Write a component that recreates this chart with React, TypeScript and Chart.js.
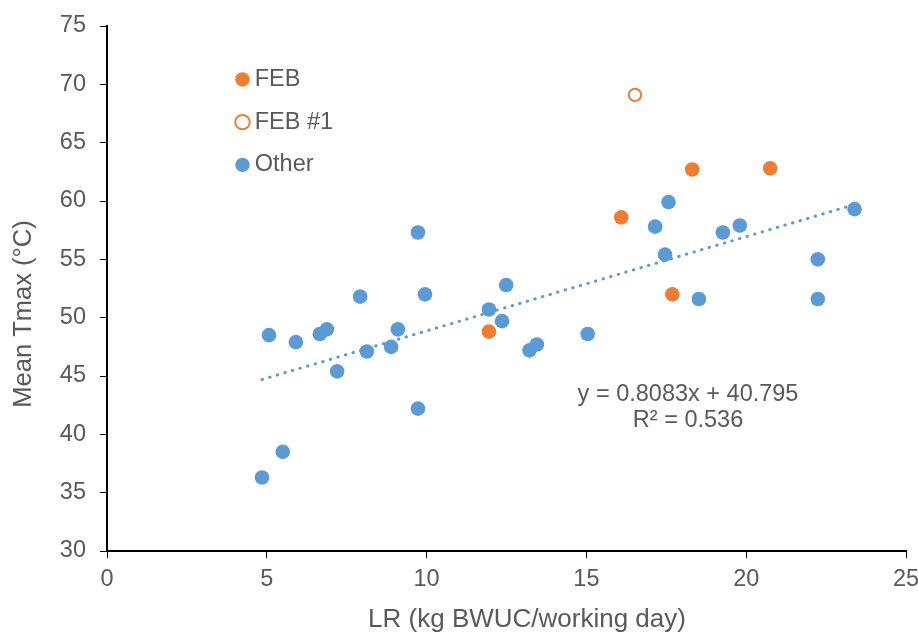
import React, { useEffect, useRef } from 'react';
import { Chart, registerables } from 'chart.js';

Chart.register(...registerables);

// ---- data ----
const febX = [11.95, 16.09, 17.69, 18.31, 20.75];
const febY = [48.8, 58.6, 52.0, 62.7, 62.8];

const feb1X = [16.52];
const feb1Y = [69.1];

const otherX = [
  4.85, 5.5, 5.07, 5.91, 6.66, 6.88, 7.2, 7.92, 8.13, 8.89, 9.1, 9.73, 9.73, 9.95,
  11.95, 12.36, 12.49, 13.22, 13.45, 15.04, 17.15, 17.46, 17.57, 18.52, 19.27, 19.8,
  22.24, 22.24, 23.39,
];
const otherY = [
  36.3, 38.5, 48.5, 47.9, 48.6, 49.0, 45.4, 51.8, 47.1, 47.5, 49.0, 57.3, 42.2, 52.0,
  50.7, 49.7, 52.8, 47.2, 47.7, 48.6, 57.8, 55.4, 59.9, 51.6, 57.3, 57.9,
  55.0, 51.6, 59.3,
];

// linear trendline of "Other" as shown (endpoints)
const trendX = [4.85, 23.4];
const trendY = [44.7, 59.7];

const seriesNames = ['FEB', 'FEB #1', 'Other'];
const equationLines = ['y = 0.8083x + 40.795', 'R² = 0.536'];
const equationAt = [18.18, 43.45];
const xTitle = 'LR (kg BWUC/working day)';
const yTitle = 'Mean Tmax (°C)';
const xRange = [0, 25];
const yRange = [30, 75];
const tickStep = 5;

const ORANGE = '#ED7D31';
const BLUE = '#5B9BD5';
const TEXT = '#595959';
const FONT = '"Liberation Sans", Arial, sans-serif';
const FS = 23.5;

const pts = (xs: number[], ys: number[]) => xs.map((x, i) => ({ x, y: ys[i] }));

const legendPlace = {
  id: 'legendPlace',
  afterLayout(chart: any) {
    const lg = chart.legend;
    if (!lg) return;
    const w = lg.width;
    const h = lg.height;
    lg.left = chart.chartArea.left + 115.8;
    lg.top = chart.chartArea.top + 22.5;
    lg.right = lg.left + w;
    lg.bottom = lg.top + h;
  },
};

const extraText = {
  id: 'extraText',
  afterDraw(chart: any) {
    const { ctx, chartArea, scales } = chart;
    ctx.save();
    ctx.fillStyle = TEXT;
    ctx.textAlign = 'center';
    ctx.textBaseline = 'middle';
    // trendline equation
    ctx.font = `${FS}px ${FONT}`;
    const ex = scales.x.getPixelForValue(equationAt[0]);
    const ey = scales.y.getPixelForValue(equationAt[1]);
    equationLines.forEach((t, i) => ctx.fillText(t, ex, ey + i * 26.8));
    // x axis title
    ctx.font = `26px ${FONT}`;
    ctx.fillText(xTitle, (chartArea.left + chartArea.right) / 2 + 20.5, chartArea.bottom + 69);
    // y axis title
    ctx.translate(24, (chartArea.top + chartArea.bottom) / 2 + 25.5);
    ctx.rotate(-Math.PI / 2);
    ctx.font = `25.5px ${FONT}`;
    ctx.fillText(yTitle, 0, 0);
    ctx.restore();
  },
};

export default function App() {
  const ref = useRef<HTMLCanvasElement | null>(null);

  useEffect(() => {
    if (!ref.current) return;
    const chart = new Chart(ref.current, {
      type: 'scatter',
      data: {
        datasets: [
          {
            label: seriesNames[0],
            data: pts(febX, febY),
            backgroundColor: ORANGE,
            borderColor: ORANGE,
            borderWidth: 0,
            pointRadius: 7.3,
            pointStyle: 'circle',
          },
          {
            label: seriesNames[1],
            data: pts(feb1X, feb1Y),
            backgroundColor: '#FFFFFF',
            borderColor: ORANGE,
            borderWidth: 2,
            pointRadius: 6.2,
            pointStyle: 'circle',
          },
          {
            label: seriesNames[2],
            data: pts(otherX, otherY),
            backgroundColor: BLUE,
            borderColor: BLUE,
            borderWidth: 0,
            pointRadius: 7.3,
            pointStyle: 'circle',
          },
          {
            type: 'line',
            label: 'trend',
            data: pts(trendX, trendY),
            borderColor: BLUE,
            borderWidth: 3,
            borderDash: [0.5, 7.4],
            borderCapStyle: 'round',
            pointRadius: 0,
            showLine: true,
            fill: false,
            order: -1,
          } as any,
        ],
      },
      options: {
        animation: false,
        responsive: false,
        events: [],
        layout: { padding: { left: 0, right: 12, top: 26, bottom: 0 } },
        plugins: {
          tooltip: { enabled: false },
          title: { display: false },
          legend: {
            display: true,
            position: 'chartArea' as any,
            align: 'start',
            labels: {
              usePointStyle: true,
              boxWidth: 1,
              boxHeight: 10.2,
              padding: 19.2,
              color: TEXT,
              font: { size: FS, family: FONT },
              filter: (item: any) => item.text !== 'trend',
            },
          },
        },
        scales: {
          x: {
            type: 'linear',
            min: xRange[0],
            max: xRange[1],
            ticks: { stepSize: tickStep, color: TEXT, font: { size: FS, family: FONT }, padding: 7 },
            grid: { drawOnChartArea: false, drawTicks: true, tickLength: 7, color: '#000', lineWidth: 1 },
            border: { display: true, color: '#000', width: 2 },
            title: { display: false },
            afterFit: (s: any) => {
              s.height = 82;
              s.paddingLeft = 0;
              s.paddingRight = 0;
            },
          },
          y: {
            type: 'linear',
            min: yRange[0],
            max: yRange[1],
            ticks: { stepSize: tickStep, color: TEXT, font: { size: FS, family: FONT }, padding: 14 },
            grid: { drawOnChartArea: false, drawTicks: true, tickLength: 7, color: '#000', lineWidth: 1 },
            border: { display: true, color: '#000', width: 2 },
            afterFit: (s: any) => {
              s.width = 107;
              s.paddingTop = 0;
              s.paddingBottom = 0;
            },
          },
        },
      },
      plugins: [legendPlace, extraText],
    });
    return () => chart.destroy();
  }, []);

  return (
    <div style={{ position: 'fixed', left: 0, top: 0, width: 918, height: 633, background: '#fff' }}>
      <canvas ref={ref} width={918} height={633} style={{ display: 'block' }} />
    </div>
  );
}
